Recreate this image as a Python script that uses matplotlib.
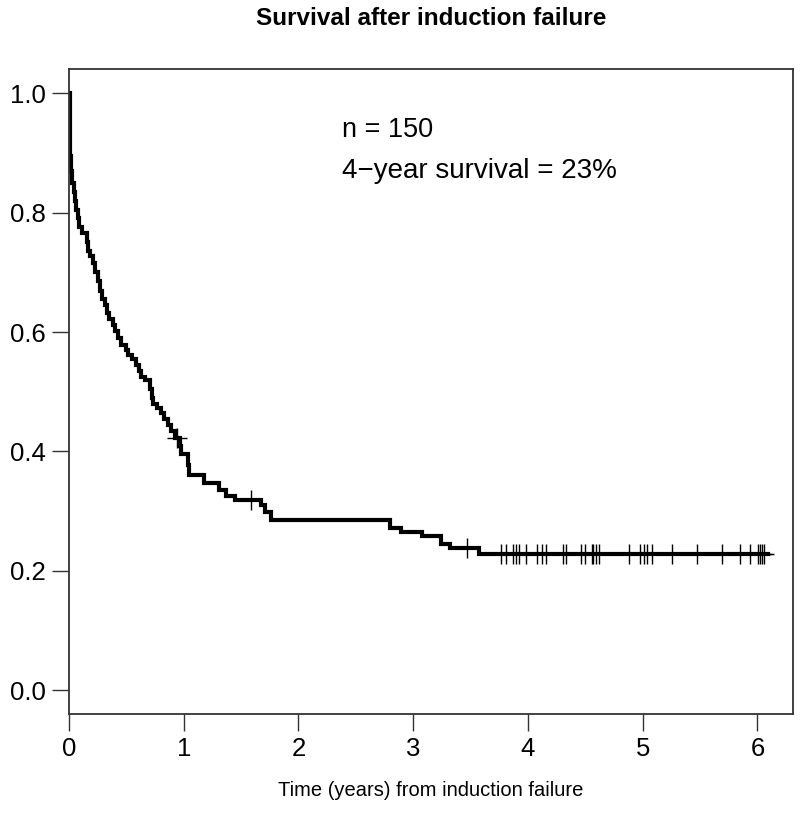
import numpy as np
import matplotlib
matplotlib.use("Agg")
import matplotlib.pyplot as plt

plt.rcParams["font.family"] = ["Liberation Sans", "DejaVu Sans"]

# Kaplan-Meier step curve: (time in years, survival after the step)
step_times = [0.0, 0.01, 0.02, 0.03, 0.04, 0.05, 0.06, 0.075, 0.09, 0.11,
              0.155, 0.165, 0.185, 0.21, 0.23, 0.25, 0.27, 0.29, 0.31, 0.33,
              0.35, 0.38, 0.40, 0.43, 0.45, 0.50, 0.51, 0.55, 0.58, 0.61,
              0.63, 0.66, 0.71, 0.72, 0.73, 0.77, 0.80, 0.83, 0.86, 0.89,
              0.92, 0.965, 0.98, 1.04, 1.05, 1.18, 1.31, 1.37, 1.45, 1.67,
              1.71, 1.76, 2.80, 2.89, 3.08, 3.24, 3.32, 3.57, 6.09]
step_surv = [1.0, 0.895, 0.87, 0.85, 0.835, 0.82, 0.805, 0.79, 0.775, 0.765,
             0.75, 0.735, 0.728, 0.715, 0.70, 0.685, 0.668, 0.655, 0.645, 0.632,
             0.622, 0.612, 0.602, 0.59, 0.578, 0.57, 0.562, 0.555, 0.545, 0.535,
             0.525, 0.52, 0.505, 0.49, 0.48, 0.472, 0.465, 0.455, 0.445, 0.435,
             0.423, 0.41, 0.395, 0.378, 0.36, 0.348, 0.335, 0.325, 0.318, 0.31,
             0.298, 0.285, 0.272, 0.265, 0.258, 0.245, 0.238, 0.228, 0.228]

# censoring times (years) with the survival level they sit on
censor_times = [0.94, 1.59, 3.47,
                3.763, 3.806, 3.872, 3.893, 3.922, 3.980, 4.081, 4.124, 4.159,
                4.304, 4.328, 4.458, 4.496, 4.554, 4.568, 4.589, 4.617, 4.878,
                4.980, 5.009, 5.037, 5.081, 5.255, 5.472, 5.690, 5.850, 5.937,
                6.009, 6.023, 6.037, 6.06]
censor_surv = [0.423, 0.318, 0.238] + [0.228] * 31

x_ticks = [0, 1, 2, 3, 4, 5, 6]
y_ticks = [0.0, 0.2, 0.4, 0.6, 0.8, 1.0]
y_tick_labels = ["0.0", "0.2", "0.4", "0.6", "0.8", "1.0"]

fig = plt.figure(figsize=(8.0, 8.23), dpi=100)
ax = fig.add_axes([0.08625, 0.132, 0.905, 0.784])

ax.step(step_times, step_surv, where="post", color="black", lw=3.0,
        solid_joinstyle="miter")
ax.plot(censor_times, censor_surv, ls="none", marker="+", ms=14,
        mew=1.0, color="black")

ax.set_xlim(0, 6.31)
ax.set_ylim(-0.04, 1.04)
ax.set_xticks(x_ticks)
ax.set_yticks(y_ticks)
ax.set_yticklabels(y_tick_labels)
ax.tick_params(axis="both", direction="out", length=12, width=1.0,
               labelsize=18.5, color="#333333")
ax.tick_params(axis="x", pad=4)
ax.tick_params(axis="y", pad=5)
for sp in ax.spines.values():
    sp.set_linewidth(1.3)
    sp.set_color("#333333")

ax.text(0.377, 0.905, "n = 150", transform=ax.transAxes, fontsize=19.5,
        va="center", ha="left")
ax.text(0.377, 0.842, "4\u2212year survival = 23%", transform=ax.transAxes,
        fontsize=20, va="center", ha="left")

ax_mid = 0.08625 + 0.905 / 2
fig.text(ax_mid, 0.978, "Survival after induction failure", ha="center",
         va="center", fontsize=17.5, fontweight="bold")
fig.text(ax_mid, 0.040, "Time (years) from induction failure", ha="center",
         va="center", fontsize=14.5)

fig.savefig("out.png", dpi=100)
